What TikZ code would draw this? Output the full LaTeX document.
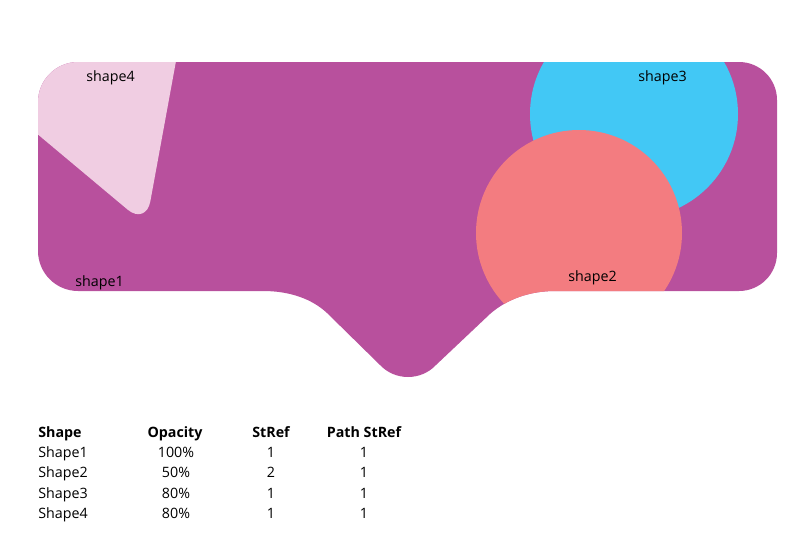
\documentclass[tikz,border=0pt]{standalone}
\usepackage{fontspec}
\setmainfont{Open Sans}
\definecolor{shapeonec}{HTML}{B8509D}
\definecolor{shapetwoc}{HTML}{F37C80}
\definecolor{shapethreec}{HTML}{42C8F5}
\definecolor{shapefourc}{HTML}{F0CDE2}
\def\shapeonepath{(78,62) -- (739,62) .. controls (760,62) and (777,79) .. (777,100) -- (777,253) .. controls (777,274) and (760,291) .. (739,291) -- (555,291) .. controls (530,291) and (507,299) .. (490,314) -- (436,365) .. controls (421,381) and (395,381) .. (380,365) -- (327,313) .. controls (312,299) and (290,291) .. (263,291) -- (78,291) .. controls (56,291) and (38,273) .. (38,251) -- (38,102) .. controls (38,80) and (56,62) .. (78,62) -- cycle}
\begin{document}
\begin{tikzpicture}[x=0.75pt,y=-0.75pt,
  lbl/.style={font=\fontsize{10.7pt}{13pt}\selectfont, inner sep=0pt, anchor=base},
  hd/.style={font=\fontsize{10.7pt}{13pt}\selectfont\bfseries, inner sep=0pt, anchor=base}]
\useasboundingbox (0,0) rectangle (800,546);
\fill[shapeonec] \shapeonepath;
\begin{scope}
  \clip \shapeonepath;
  \fill[shapefourc, rounded corners=18pt] (189,-10) -- (146,225) -- (-20,86) -- (-20,-10) -- cycle;
  \fill[shapethreec] (634,114) circle[radius=104];
  \fill[shapetwoc] (579,233) circle[radius=103];
\end{scope}
\node[lbl] (l4) at (110.5,81) {shape4};
\node[lbl] (l3) at (662.5,81) {shape3};
\node[lbl] (l2) at (592.5,281) {shape2};
\node[lbl] (l1) at (99.5,286) {shape1};
% table
\node[hd, anchor=base west] (h1) at (38,437) {Shape};
\node[hd] (h2) at (175,437) {Opacity};
\node[hd] (h3) at (271,437) {StRef};
\node[hd] (h4) at (364,437) {Path StRef};
\node[lbl, anchor=base west] (a1) at (38,457) {Shape1};
\node[lbl] (a2) at (176,457) {100\%};
\node[lbl] (a3) at (271,457) {1};
\node[lbl] (a4) at (364,457) {1};
\node[lbl, anchor=base west] (b1) at (38,477.5) {Shape2};
\node[lbl] (b2) at (176,477.5) {50\%};
\node[lbl] (b3) at (271,477.5) {2};
\node[lbl] (b4) at (364,477.5) {1};
\node[lbl, anchor=base west] (c1) at (38,498) {Shape3};
\node[lbl] (c2) at (176,498) {80\%};
\node[lbl] (c3) at (271,498) {1};
\node[lbl] (c4) at (364,498) {1};
\node[lbl, anchor=base west] (d1) at (38,518.5) {Shape4};
\node[lbl] (d2) at (176,518.5) {80\%};
\node[lbl] (d3) at (271,518.5) {1};
\node[lbl] (d4) at (364,518.5) {1};
\end{tikzpicture}
\end{document}
